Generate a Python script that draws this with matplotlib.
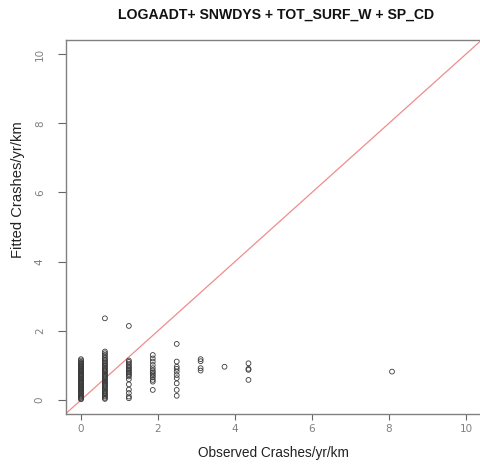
import matplotlib
matplotlib.use("Agg")
import matplotlib.pyplot as plt

# Observed crash-rate categories (crashes/yr/km) and fitted values per category
observed_levels = [0.0, 0.621, 1.243, 1.864, 2.486, 3.107, 3.728, 4.350, 8.078]
fitted_by_level = [
    [0.02, 0.04, 0.07, 0.1, 0.12, 0.15, 0.19, 0.21, 0.23, 0.26, 0.29, 0.31, 0.34, 0.36,
     0.39, 0.41, 0.43, 0.46, 0.49, 0.51, 0.53, 0.56, 0.59, 0.61, 0.63, 0.66, 0.69, 0.71,
     0.73, 0.76, 0.79, 0.81, 0.84, 0.86, 0.89, 0.91, 0.94, 0.96, 0.99, 1.01, 1.04, 1.07,
     1.1, 1.14, 1.18],
    [0.03, 0.06, 0.1, 0.13, 0.17, 0.2, 0.24, 0.27, 0.3, 0.34, 0.37, 0.41, 0.44, 0.47,
     0.5, 0.53, 0.56, 0.6, 0.63, 0.66, 0.7, 0.73, 0.76, 0.8, 0.83, 0.86, 0.9, 0.93, 0.97,
     1.0, 1.04, 1.08, 1.12, 1.16, 1.2, 1.25, 1.3, 1.35, 1.40, 2.36],
    [0.05, 0.1, 0.2, 0.3, 0.45, 0.6, 0.68, 0.72, 0.76, 0.8, 0.84, 0.88, 0.92, 0.96, 1.0,
     1.05, 1.1, 1.14, 2.14],
    [0.29, 0.53, 0.58, 0.65, 0.7, 0.75, 0.8, 0.85, 0.92, 1.01, 1.11, 1.2, 1.3],
    [0.12, 0.29, 0.48, 0.63, 0.72, 0.82, 0.9, 0.96, 1.11, 1.62],
    [0.85, 0.92, 1.12, 1.18],
    [0.96],
    [0.58, 0.87, 0.9, 1.06],
    [0.82],
]
x_ticks = [0, 2, 4, 6, 8, 10]
y_ticks = [0, 2, 4, 6, 8, 10]
title = "LOGAADT+ SNWDYS + TOT_SURF_W + SP_CD"
x_label = "Observed Crashes/yr/km"
y_label = "Fitted Crashes/yr/km"

plt.rcParams['font.family'] = ['Liberation Sans', 'DejaVu Sans']

fig = plt.figure(figsize=(4.8, 4.74), dpi=100)
W, H = 480, 474
left_px, right_px, top_px, bottom_px = 65.6, 481.4, 40.2, 413.8
ax = fig.add_axes([left_px / W, 1 - bottom_px / H,
                   (right_px - left_px) / W, (bottom_px - top_px) / H])

xs, ys = [], []
for lvl, vals in zip(observed_levels, fitted_by_level):
    for v in vals:
        xs.append(lvl)
        ys.append(v)

ax.plot([-1, 11], [-1, 11], color='#f08c8c', lw=0.9, zorder=1)
ax.scatter(xs, ys, s=12, facecolors='none', edgecolors='#3a3a3a', linewidths=0.6, zorder=2)

ax.set_xlim(-0.4, 10.4)
ax.set_ylim(-0.4, 10.4)
ax.set_xticks(x_ticks)
ax.set_yticks(y_ticks)
ax.set_xticklabels([str(t) for t in x_ticks], family='DejaVu Sans')
ax.set_yticklabels([str(t) for t in y_ticks], rotation=90, va='center', family='DejaVu Sans')

for s in ax.spines.values():
    s.set_color('#808080')
    s.set_linewidth(1.0)
ax.tick_params(axis='x', direction='out', length=4, width=0.8, color='#666666',
               labelsize=7.5, labelcolor='#808080', pad=3)
ax.tick_params(axis='y', direction='out', length=6, width=0.8, color='#666666',
               labelsize=7.5, labelcolor='#808080', pad=9)

fig.text(273.5 / W, 1 - 453 / H, x_label, ha='center', va='center', fontsize=9.8, color='#222222')
fig.text(18 / W, 1 - 190 / H, y_label, ha='center', va='center', rotation=90, fontsize=10.6,
         color='#222222')
fig.text(276.5 / W, 1 - 15 / H, title, ha='center', va='center', fontsize=10.1,
         fontweight='bold', color='#111111')

fig.savefig('out.png', dpi=100)
